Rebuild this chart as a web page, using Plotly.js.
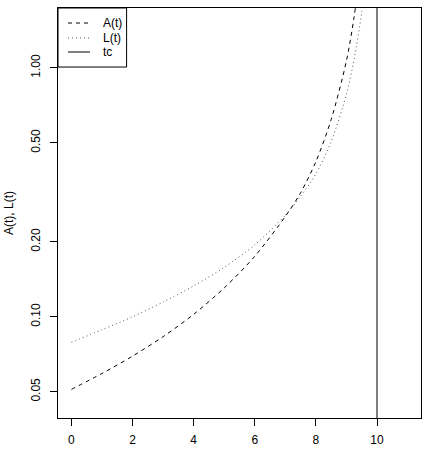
<!DOCTYPE html>
<html>
<head>
<meta charset="utf-8">
<script src="https://cdn.plot.ly/plotly-3.0.1.min.js"></script>
<style>
html, body { margin: 0; padding: 0; background: #ffffff; }
#chart { width: 422px; height: 452px; }
</style>
</head>
<body>
<div id="chart"></div>
<script>
// Time points and series values
var tA = [0, 1, 2, 3, 4, 5, 6, 7, 7.5, 8, 8.5, 9, 9.25, 9.5];
var A = [0.0511, 0.0592, 0.0695, 0.0832, 0.1023, 0.1306, 0.175, 0.253, 0.315, 0.42, 0.62, 1.067, 1.6, 2.8];

var tL = [0, 1, 2, 3, 4, 5, 6, 7, 7.5, 8, 8.5, 9, 9.25, 9.5, 9.65];
var L = [0.079, 0.0887, 0.100, 0.1146, 0.133, 0.158, 0.1945, 0.256, 0.305, 0.375, 0.506, 0.783, 1.08, 1.67, 2.4];

var tc = 10;
var tcSpan = [0.001, 1000];

var xTicks = [0, 2, 4, 6, 8, 10];
var yTicks = [0.05, 0.10, 0.20, 0.50, 1.00];
var yTickText = ["0.05", "0.10", "0.20", "0.50", "1.00"];

var legendNames = ["A(t)", "L(t)", "tc"];
var legendDash = ["4px,4px", "1px,3px", "solid"];
var lineColors = ["#000000", "#555555", "#000000"];

var traces = [
  { x: tA, y: A, name: legendNames[0], mode: "lines", showlegend: false,
    line: { color: lineColors[0], width: 1, dash: legendDash[0], shape: "spline", smoothing: 0.8 } },
  { x: tL, y: L, name: legendNames[1], mode: "lines", showlegend: false,
    line: { color: lineColors[1], width: 1, dash: legendDash[1], shape: "spline", smoothing: 0.8 } },
  { x: [tc, tc], y: tcSpan, name: legendNames[2], mode: "lines", showlegend: false,
    line: { color: lineColors[2], width: 1 } }
];

var font = { family: "Liberation Sans, Arial, Helvetica, sans-serif", size: 12, color: "#000000" };

// Manual R-style legend (paper coordinates)
var lgX0 = 0, lgX1 = 0.189, lgY0 = 0.856, lgY1 = 1;
var rowY = [0.9634, 0.9268, 0.8927];
var shapes = [
  { type: "rect", xref: "paper", yref: "paper", x0: lgX0, x1: lgX1, y0: lgY0, y1: lgY1,
    line: { color: "#000000", width: 1 }, fillcolor: "#ffffff", layer: "above" }
];
var annotations = [];
for (var i = 0; i < legendNames.length; i++) {
  shapes.push({ type: "line", xref: "paper", yref: "paper", x0: 0.0275, x1: 0.088, y0: rowY[i], y1: rowY[i],
    line: { color: lineColors[i], width: 1, dash: legendDash[i] }, layer: "above" });
  annotations.push({ xref: "paper", yref: "paper", x: 0.1185, y: rowY[i], xanchor: "left", yanchor: "middle",
    text: legendNames[i], showarrow: false, font: font });
}

var layout = {
  width: 422, height: 452,
  margin: { l: 58, r: 1, t: 8, b: 34, pad: 0 },
  paper_bgcolor: "#ffffff", plot_bgcolor: "#ffffff",
  font: font,
  showlegend: false,
  shapes: shapes,
  annotations: annotations,
  xaxis: {
    range: [-0.44, 11.44],
    tickmode: "array", tickvals: xTicks,
    ticks: "outside", ticklen: 7, tickwidth: 1, tickcolor: "#000000",
    ticklabelstandoff: 4,
    showline: true, linecolor: "#000000", linewidth: 1, mirror: true,
    showgrid: false, zeroline: false,
    tickfont: font
  },
  yaxis: {
    type: "log",
    range: [Math.log10(0.0392), Math.log10(1.74)],
    tickmode: "array", tickvals: yTicks, ticktext: yTickText,
    tickangle: -90,
    ticks: "outside", ticklen: 7, tickwidth: 1, tickcolor: "#000000",
    ticklabelstandoff: 5,
    showline: true, linecolor: "#000000", linewidth: 1, mirror: true,
    showgrid: false, zeroline: false,
    tickfont: font,
    title: { text: "A(t), L(t)", font: font, standoff: 13 }
  }
};

Plotly.newPlot("chart", traces, layout, { staticPlot: true, displayModeBar: false });
</script>
</body>
</html>
